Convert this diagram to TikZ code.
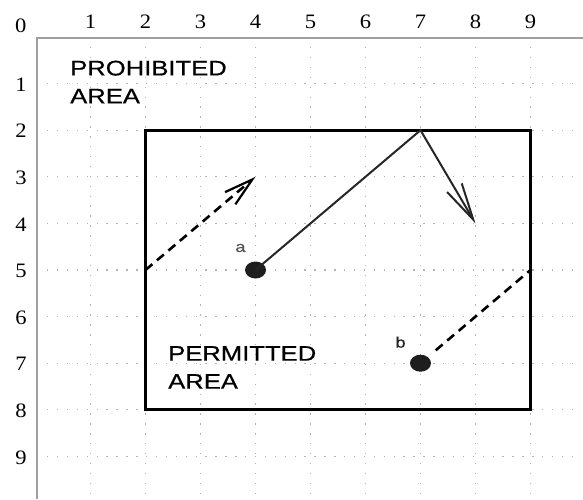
\documentclass[tikz,border=0pt]{standalone}
\usepackage{fontspec}
\setmainfont{Liberation Serif}
\newfontfamily\widesans[FakeStretch=1.22,FakeBold=0.6]{Liberation Sans}
\newfontfamily\numserif[FakeStretch=1.1]{Liberation Serif}
\usetikzlibrary{arrows.meta,shapes.geometric}
\definecolor{framegray}{HTML}{A0A0A0}
\definecolor{griddot}{HTML}{B4B4B4}
\definecolor{dotfill}{HTML}{1E1E1E}
\definecolor{labgray}{HTML}{555555}
\begin{document}
\begin{tikzpicture}[x=1pt,y=-1pt,
  frameline/.style={draw=framegray,line width=2pt},
  gridline/.style={draw=griddot,line width=1.2pt,dash pattern=on 1.4pt off 8.5pt},
  axislab/.style={font=\numserif\fontsize{20.5}{20.5}\selectfont,inner sep=0pt},
  arealab/.style={font=\widesans\fontsize{21}{28}\selectfont,align=left,anchor=north west,inner sep=0pt},
  pointlab/.style={font=\widesans\fontsize{15}{15}\selectfont,inner sep=0pt},
  dotnode/.style={ellipse,fill=dotfill,minimum width=21pt,minimum height=17pt,inner sep=0pt},
  boxline/.style={draw=black,line width=3pt,line join=miter},
  solidline/.style={draw=black!85,line width=2pt,line join=miter},
  dashline/.style={draw=black,line width=2.6pt,dash pattern=on 9pt off 6pt}]
\useasboundingbox (0,0) rectangle (583,499);
% frame
\draw[frameline] (37,499) -- (37,38) -- (583,38);
\begin{scope}[shift={(35.5,37)},x=55pt,y=-46.6pt]
  % grid
  \foreach \i in {1,...,9} {
    \draw[gridline] (\i,0.215) -- (\i,9.83);
    \draw[gridline] (0.21,\i) -- (9.85,\i);
    \node[axislab] (c\i) at (\i,-0.333) {\i};
    \node[axislab] (r\i) at (-0.264,\i+0.02) {\i};
  }
  \node[axislab] (c0) at (-0.27,-0.247) {0};
  % permitted area
  \draw[boxline] (2,2) rectangle (9,8);
  % points
  \node[dotnode] (a) at (4,5) {};
  \node[dotnode] (b) at (7,7) {};
  \node[pointlab,text=labgray] (la) at ([xshift=-15pt,yshift=22pt]a.center) {a};
  \node[pointlab,text=black!85] (lb) at ([xshift=-20pt,yshift=21pt]b.center) {b};
  \coordinate (top) at (7,2);
  \coordinate (tip) at (8,4);
  \coordinate (d1s) at (2,5);
  \coordinate (d1e) at (4,3);
  \coordinate (d2e) at (9,5);
  \draw[solidline,-{Straight Barb[length=37pt,width=17pt,line width=2pt]}] (a.center) -- (top) -- (tip);
  \draw[dashline,-{Straight Barb[length=29pt,width=16pt,line width=2.2pt]}] (d1s) -- (d1e);
  \draw[dashline,shorten <=20pt] (b.center) -- (d2e);
\end{scope}
\node[arealab] (prohib) at (70,60.5) {PROHIBITED\\AREA};
\node[arealab] (permit) at (168,346) {PERMITTED\\AREA};
\end{tikzpicture}
\end{document}
